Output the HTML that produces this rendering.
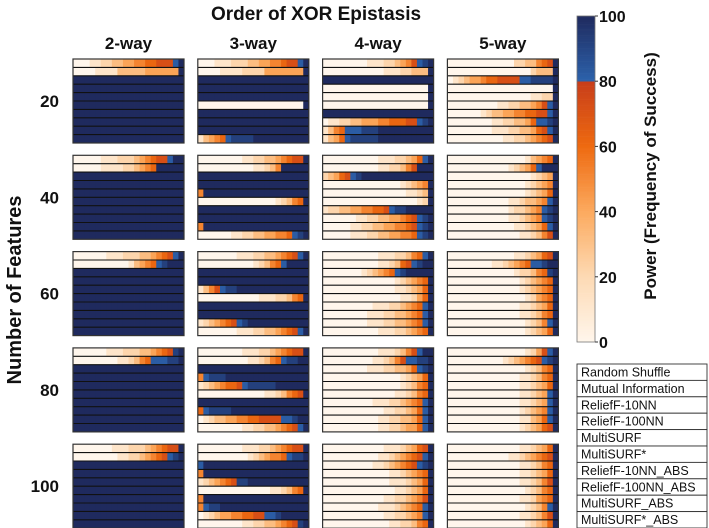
<!DOCTYPE html>
<html><head><meta charset="utf-8"><style>
html,body{margin:0;padding:0;background:#fff;width:709px;height:528px;overflow:hidden}
svg text{font-family:"Liberation Sans",Arial,sans-serif;font-weight:bold;fill:#111}
.lg{font-weight:normal;font-size:12.5px}
</style></head><body>
<svg id="chart" width="709" height="528" viewBox="0 0 709 528" xmlns="http://www.w3.org/2000/svg">
<text x="316" y="20" font-size="19" text-anchor="middle">Order of XOR Epistasis</text>
<text transform="translate(21,290) rotate(-90)" font-size="20" text-anchor="middle">Number of Features</text>
<text transform="translate(656,176) rotate(-90)" font-size="17" text-anchor="middle">Power (Frequency of Success)</text>
<g id="panels"></g>
<g id="cbar"></g>
<g id="legend"></g>
</svg>
<script>
const orders = ["2-way","3-way","4-way","5-way"];
const featureCounts = ["20","40","60","80","100"];
const methods = ["Random Shuffle","Mutual Information","ReliefF-10NN","ReliefF-100NN","MultiSURF","MultiSURF*","ReliefF-10NN_ABS","ReliefF-100NN_ABS","MultiSURF_ABS","MultiSURF*_ABS"];
const cbarTicks = [0,20,40,60,80,100];
// Each row string: 20 cells, digit d = power d*10, X = 100, N = all 100
const f20 = [
 ["0001122334455667778X","0000111133333444444X","N","N","N","N","N","N","N","N"],
 ["0001112223344556778X","0000111122224444444X","N","N","N","0000000000000000000X","N","N","N","1345689999XXXXXXXXXX"],
 ["0000000011122345789X","0000000000011122333X","N","0000000000000000000X","0000000000000000000X","0000000000000000000X","N","0112233444556667789X","1356888999XXXXXXXXXX","1346899999XXXXXXXXXX"],
 ["0000000000002233567X","0000000000000002333X","0123445667777889999X","0000000000000000000X","0000000000000001122X","0000000001122334578X","0000001233445566778X","0000000011223346889X","0000000011122334678X","0000000000112234567X"]
];
const f40 = [
 ["000001112223456778XX","000001111223456XXXXX","N","N","N","N","N","N","N","N"],
 ["0000000011223345677X","000000000011235XXXXX","N","N","5XXXXXXXXXXXXXXXXXXX","0000000000000012356X","N","N","5XXXXXXXXXXXXXXXXXXX","0000001122334455689X"],
 ["0000000000111223468X","00000000001122357XXX","2346789XXXXXXXXXXXXX","0000000000000012345X","0000000000000001123X","0000000000000000012X","122334455667899XXXXX","0000001122334456789X","0000011223344556789X","0000011122334455689X"],
 ["0000000000000013456X","00000000000123468XXX","0000000000000001234X","0000000000000012345X","0000000000000012346X","0000000000011233458X","0000000000012234589X","0000000000011234589X","0000000000001123468X","0000000000000112357X"]
];
const f60 = [
 ["0000001112223345678X","00000000001345689XXX","N","N","N","N","N","N","N","N"],
 ["0000000111223345678X","0000000000123568XXXX","N","N","1357899XXXXXXXXXXXXX","0000000000011122356X","N","N","123456789XXXXXXXXXXX","0000000111223345678X"],
 ["0000000000111223568X","000000000011236789XX","000000012345689XXXXX","0000000000000123456X","0000000000000112346X","0000000000000011246X","0000000001112234568X","0000000011122334568X","0000000011122334568X","0000000000111223456X"],
 ["0000000000001123467X","000000001123456889XX","0000000000001223569X","0000000000000123456X","0000000000000123456X","0000000000000012456X","0000000000000112346X","0000000000000112356X","0000000000000012358X","0000000000000012346X"]
];
const f80 = [
 ["0000001112223345679X","0000000011235688899X","N","N","N","N","N","N","N","N"],
 ["0000000011122345677X","000000000112356899XX","N","58999XXXXXXXXXXXXXXX","12345667899999XXXXXX","0000000000001123567X","N","689999XXXXXXXXXXXXXX","012334455667777889XX","0000000011223345678X"],
 ["000000000011123578XX","0000000001123578899X","0000000011122334689X","0000000000000012346X","0000000000000012356X","0000000000000112356X","0000000001112234568X","0000000000011223468X","0000000000112233468X","0000000000112234468X"],
 ["0000000000000012478X","0000000000123456789X","0000000000000012356X","0000000000000112356X","0000000000000112346X","0000000000000112348X","0000000000000112348X","0000000000000123458X","0000000000000113468X","0000000000000123467X"]
];
const f100 = [
 ["0000000111222345677X","0000000011223456789X","N","N","N","N","N","N","N","N"],
 ["0000000011122345677X","0000000001234556899X","8XXXXXXXXXXXXXXXXXXX","5XXXXXXXXXXXXXXXXXXX","123456799XXXXXXXXXXX","0000000000000112356X","5XXXXXXXXXXXXXXXXXXX","5899XXXXXXXXXXXXXXXX","012344556677889XXXXX","0000000011223345679X"],
 ["0000000000011123467X","0000000000112345678X","0000000001123456789X","0000000000001123456X","0000000000001112346X","0000000000000112346X","0000000000011223457X","0000000000111234568X","0000000000011223458X","0000000000001122356X"],
 ["0000000000000112346X","0000000000011234567X","0000000000000112356X","0000000000000112346X","0000000000000112357X","0000000000000012356X","0000000000000112456X","0000000000000012358X","0000000000000112357X","0000000000000012346X"]
];
const grid = [f20,f40,f60,f80,f100];

const NS="http://www.w3.org/2000/svg";
function mk(tag,attrs,parent){const e=document.createElementNS(NS,tag);for(const k in attrs)e.setAttribute(k,attrs[k]);parent.appendChild(e);return e;}
const stops=[[0,[255,246,236]],[20,[253,218,180]],[40,[252,170,95]],[60,[238,106,16]],[79.9,[200,62,26]],[80,[44,98,172]],[100,[31,42,94]]];
function color(v){for(let i=1;i<stops.length;i++){if(v<=stops[i][0]){const a=stops[i-1],b=stops[i];const t=(v-a[0])/(b[0]-a[0]||1);const c=a[1].map((x,j)=>Math.round(x+(b[1][j]-x)*t));return `rgb(${c})`;}}return "rgb(31,42,94)";}
function cellVal(ch){return ch==="X"?100:parseInt(ch,10)*10+(ch==="0"?0:2);}
const px0=73,pdx=124.8,pw=111,py0=59,pdy=96.3,ph=84,nCells=20;
const xScale=(c,i)=>px0+c*pdx+i*pw/nCells;
const yScale=(r,m)=>py0+r*pdy+m*ph/methods.length;
const panels=document.getElementById("panels");
orders.forEach((o,c)=>{const t=mk("text",{x:px0+c*pdx+pw/2,y:49,"font-size":17,"text-anchor":"middle"},panels);


t.textContent=o;});
featureCounts.forEach((f,r)=>{const t=mk("text",{x:59,y:yScale(r,5)+6,"font-size":17,"text-anchor":"end"},panels);


t.textContent=f;});
grid.forEach((row,r)=>row.forEach((panel,c)=>{
 const g=mk("g",{},panels);
 
 
 panel.forEach((s,m)=>{const str=s==="N"?"X".repeat(nCells):s;const y0=yScale(r,m),y1=yScale(r,m+1);
  for(let i=0;i<nCells;i++){const x0=xScale(c,i),x1=xScale(c,i+1);
   const rc=mk("rect",{x:x0,y:y0,width:x1-x0+0.4,height:y1-y0,fill:color(cellVal(str[i]))},g);
   
   }
  if(m>0){const ln=mk("line",{x1:xScale(c,0),x2:xScale(c,nCells),y1:y0,y2:y0,stroke:"#111","stroke-width":1.1},g);
   
   }
 });
 const b=mk("rect",{x:xScale(c,0),y:yScale(r,0),width:pw,height:ph,fill:"none",stroke:"#333","stroke-width":1.2},g);
 
 
}));
// colorbar
const cb=document.getElementById("cbar");
const cbx=577,cbw=18,cTop=16,cBot=342;
const cy=v=>cBot-(v/100)*(cBot-cTop);
for(let v=0;v<100;v+=0.5){const r=mk("rect",{x:cbx,y:cy(v+0.5),width:cbw,height:(cBot-cTop)/200+0.3,fill:color(v+0.25)},cb);

}
const cbb=mk("rect",{x:cbx,y:cTop,width:cbw,height:cBot-cTop,fill:"none",stroke:"#777","stroke-width":0.8},cb);


cbarTicks.forEach(v=>{const l=mk("line",{x1:cbx+cbw,x2:cbx+cbw+3,y1:cy(v),y2:cy(v),stroke:"#333"},cb);


const t=mk("text",{x:cbx+cbw+4,y:cy(v)+6,"font-size":16},cb);


t.textContent=v;});
// legend
const lg=document.getElementById("legend");
const lx=577,ly=364,lw=130,lh=16.4;
methods.forEach((m,i)=>{const r=mk("rect",{x:lx,y:ly+i*lh,width:lw,height:lh,fill:"#fff",stroke:"#333","stroke-width":0.9},lg);


const t=mk("text",{x:lx+4,y:ly+i*lh+12.5,class:"lg"},lg);


t.textContent=m;});
</script>
</body></html>
